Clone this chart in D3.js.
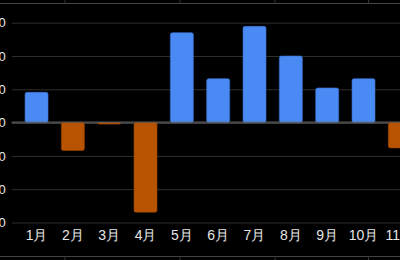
<!DOCTYPE html>
<html>
<head>
<meta charset="utf-8">
<script src="https://cdn.jsdelivr.net/npm/d3@7"></script>
<style>
  html, body { margin: 0; padding: 0; background: #000; overflow: hidden; }
  svg { display: block; font-family: "Noto Sans CJK SC", "Noto Sans", sans-serif; }
</style>
</head>
<body>
<div id="chart"></div>
<script>
// Monthly change, positive in blue, negative in orange
var months = ['1月', '2月', '3月', '4月', '5月', '6月', '7月', '8月', '9月', '10月', '11月', '12月'];
var values = [9.1, -8.4, -0.3, -26.9, 27.0, 13.2, 28.9, 20.0, 10.4, 13.2, -7.6, null];
var yTicks = [-30, -20, -10, 0, 10, 20, 30];

var POS_COLOR = '#4a8af4';
var NEG_COLOR = '#b85400';

var width = 400, height = 260;
var margin = { top: 22.7, right: 0, bottom: 37.5, left: 11.7 };
// the plot is wider than the window, the last month falls outside
var plotRight = 461;

var svg = d3.select('#chart').append('svg')
    .attr('width', width)
    .attr('height', height);

// page frame lines around the chart
var frameX = [65, 180, 275, 368.5];
svg.append('line').attr('x1', 0).attr('x2', width).attr('y1', 3.5).attr('y2', 3.5)
    .attr('stroke', '#444').attr('stroke-width', 1);
svg.append('line').attr('x1', 0).attr('x2', width).attr('y1', 256.5).attr('y2', 256.5)
    .attr('stroke', '#444').attr('stroke-width', 1);
frameX.forEach(function(x) {
    svg.append('line').attr('x1', x).attr('x2', x).attr('y1', 0).attr('y2', 3.5)
        .attr('stroke', '#333');
    svg.append('line').attr('x1', x).attr('x2', x).attr('y1', 256.5).attr('y2', height)
        .attr('stroke', '#333');
});

var x = d3.scaleBand()
    .domain(months)
    .range([margin.left, plotRight])
    .padding(0.367);

var y = d3.scaleLinear()
    .domain([-30, 30])
    .range([height - margin.bottom, margin.top]);

// gridlines + y labels (cut off at the left edge, as in the original)
var yAxis = svg.append('g')
    .attr('transform', 'translate(' + margin.left + ',0)')
    .call(d3.axisLeft(y).tickValues(yTicks).tickSize(-(plotRight - margin.left)).tickPadding(6));
yAxis.select('.domain').remove();
yAxis.selectAll('.tick line')
    .attr('stroke', function(d) { return d === 0 ? '#666' : '#2e2e2e'; })
    .attr('stroke-width', 1);
yAxis.selectAll('.tick text')
    .attr('fill', '#e6e6e6')
    .style('font-size', '13px');

// bars
var data = months.map(function(m, i) { return { month: m, value: values[i] }; })
    .filter(function(d) { return d.value !== null; });

svg.append('g').selectAll('rect')
    .data(data)
    .join('rect')
    .attr('x', function(d) { return x(d.month); })
    .attr('y', function(d) { return y(Math.max(0, d.value)); })
    .attr('width', x.bandwidth())
    .attr('height', function(d) { return Math.max(1.5, Math.abs(y(d.value) - y(0))); })
    .attr('rx', 2)
    .attr('fill', function(d) { return d.value >= 0 ? POS_COLOR : NEG_COLOR; })
    .attr('stroke', function(d) { return d.value >= 0 ? '#3a74d0' : '#9a4600'; })
    .attr('stroke-width', 0.6);

// zero line
svg.append('line')
    .attr('x1', margin.left).attr('x2', plotRight)
    .attr('y1', y(0) - 0.5).attr('y2', y(0) - 0.5)
    .attr('stroke', '#666');

// month labels
var xAxis = svg.append('g')
    .attr('transform', 'translate(0,' + (height - margin.bottom) + ')')
    .call(d3.axisBottom(x).tickSize(0).tickPadding(8));
xAxis.select('.domain').remove();
xAxis.selectAll('.tick text')
    .attr('fill', '#e6e6e6')
    .style('font-size', '14px');
</script>
</body>
</html>
